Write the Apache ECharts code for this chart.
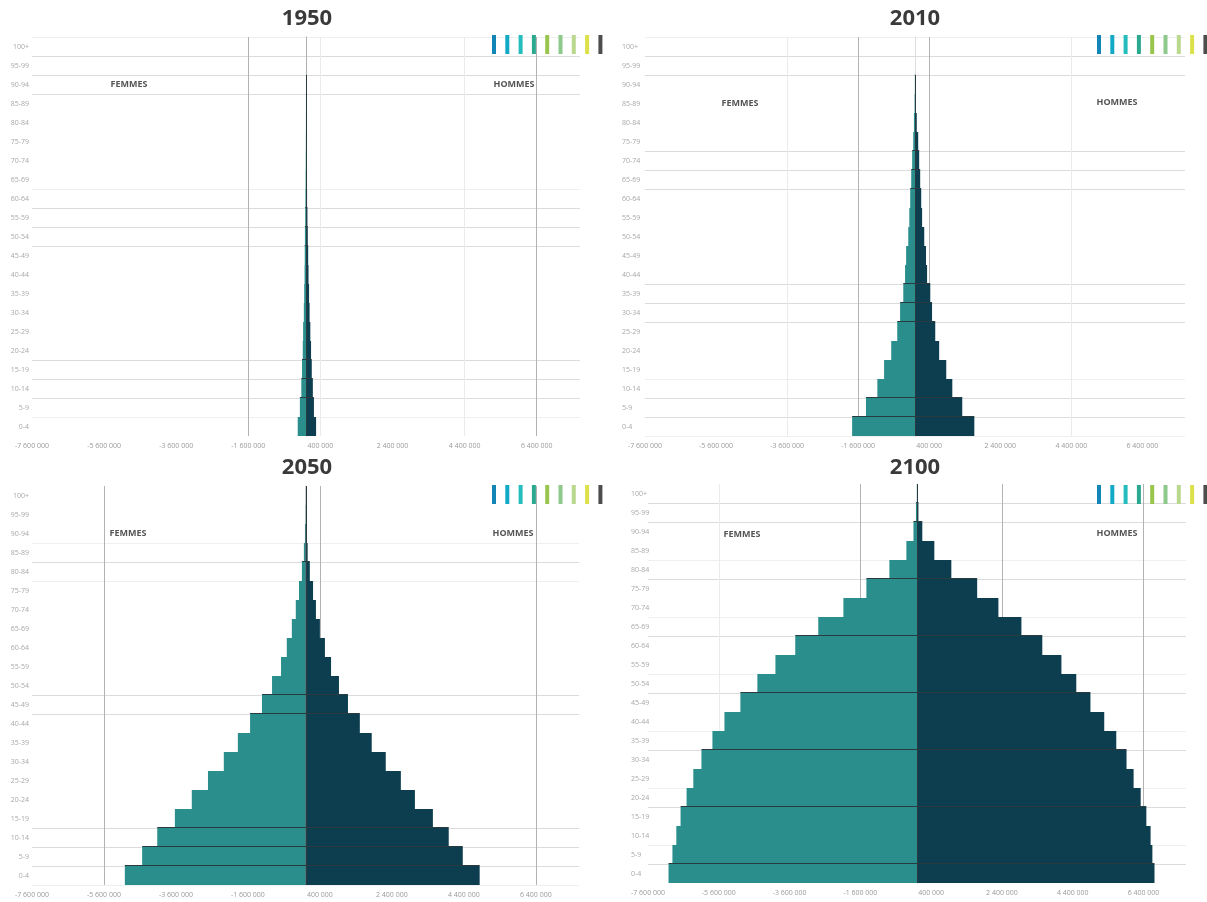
<!DOCTYPE html>
<html><head><meta charset="utf-8">
<script src="https://cdn.jsdelivr.net/npm/echarts@6/dist/echarts.min.js"></script>
<style>html,body{margin:0;padding:0;background:#fff}#c{width:1207px;height:902px}</style>
</head><body><div id="c"></div>
<script>
// ---- data (persons), age groups from 0-4 (bottom) to 100+ (top) ----
const ageGroups = ['0-4','5-9','10-14','15-19','20-24','25-29','30-34','35-39','40-44','45-49','50-54','55-59','60-64','65-69','70-74','75-79','80-84','85-89','90-94','95-99','100+'];
const years = ['1950','2010','2050','2100'];
const sexLabels = ['FEMMES','HOMMES'];

const femmes1950 = [230000,170000,130000,110000,90000,80000,60000,50000,40000,35000,30000,22000,16000,11000,7000,4000,2000,1000,300,0,0];
const hommes1950 = [280000,220000,190000,160000,140000,120000,100000,85000,70000,60000,50000,40000,30000,20000,13000,8000,4000,2000,500,0,0];

const femmes2010 = [1770000,1380000,1060000,870000,670000,500000,420000,330000,280000,250000,190000,160000,135000,107000,80000,50000,30000,12000,4000,0,0];
const hommes2010 = [1670000,1330000,1050000,880000,680000,570000,480000,430000,340000,310000,260000,200000,175000,146000,118000,90000,50000,20000,6000,0,0];

const femmes2050 = [5020000,4540000,4120000,3630000,3160000,2710000,2270000,1880000,1540000,1210000,930000,680000,520000,380000,270000,180000,100000,45000,15000,3000,500];
const hommes2050 = [4840000,4370000,3980000,3540000,3040000,2650000,2230000,1840000,1510000,1180000,930000,710000,540000,400000,290000,210000,120000,60000,20000,4000,500];

const femmes2100 = [7020000,6910000,6800000,6680000,6510000,6320000,6090000,5780000,5440000,4990000,4510000,4000000,3440000,2790000,2080000,1430000,780000,300000,100000,30000,5000];
const hommes2100 = [6710000,6650000,6600000,6480000,6320000,6120000,5920000,5630000,5290000,4900000,4500000,4080000,3540000,2950000,2300000,1700000,970000,490000,150000,40000,10000];

const xMin = -7600000, xMax = 7600000, xStep = 400000, xLabelEvery = 5;

const femmesByYear = [femmes1950, femmes2010, femmes2050, femmes2100];
const hommesByYear = [hommes1950, hommes2010, hommes2050, hommes2100];

// ---- layout / style ----
const swatchColors = ['#1386b8','#12a9c6','#24bcbd','#2aa98e','#99c54c','#8dc98b','#bad88e','#dce14a','#4d4d4d'];
const layouts = [
  {left:32, top:37, width:548, height:399, yOffset:0, inside:false, yMargin:3, yLine:'#b0b0b0',
   title:[307,19], fem:[129,84], hom:[514,84], sw:[492,35],
   xDark:[3,7], xFaint:[4,6], strong:[1,2,3,9,10,11,17,18,19], faint:[0,8,20]},
  {left:645, top:37, width:540, height:399, yOffset:29, inside:true, yMargin:6, yLine:'#dedede',
   title:[915,19], fem:[740,103], hom:[1117,102], sw:[1097,35],
   xDark:[3,4], xFaint:[2,6], strong:[1,2,6,7,8,13,14,15,19,20], faint:[0,18,21]},
  {left:32, top:486, width:547, height:399, yOffset:0, inside:false, yMargin:3, yLine:'#d4d4d4',
   title:[307,468], fem:[128,533], hom:[513,533], sw:[492,485],
   xDark:[1,4,7], xFaint:[], strong:[4,11,12,18,19,20], faint:[3,5,21]},
  {left:648, top:484, width:538, height:399, yOffset:20, inside:true, yMargin:3, yLine:'#e2e2e2',
   title:[915,468], fem:[742,534], hom:[1117,533], sw:[1097,485],
   xDark:[3,5,7], xFaint:[1], strong:[1,2,5,8,11,14,17,20], faint:[4,7,10,13,16,19]}
];

function fmt(v){
  const s = Math.abs(Math.round(v)).toString().replace(/\B(?=(\d{3})+(?!\d))/g,' ');
  return (v < 0 ? '-' : '') + s;
}
function majorIndex(v){
  const t = Math.round((v - xMin) / xStep);
  return t % xLabelEvery === 0 ? t / xLabelEvery : -1;
}

const option = {animation:false, grid:[], xAxis:[], yAxis:[], series:[], graphic:[]};
const nX = Math.round((xMax - xMin) / xStep) + 1;
const nRows = ageGroups.length;

layouts.forEach((L, gi) => {
  const F = femmesByYear[gi], M = hommesByYear[gi];
  option.grid.push({left:L.left, top:L.top, width:L.width, height:L.height});
  const xColors = [];
  for (let t = 0; t < nX; t++) {
    const m = t % xLabelEvery === 0 ? t / xLabelEvery : -1;
    xColors.push(m >= 0 && L.xDark.includes(m) ? '#b2b2b2' : (m >= 0 && L.xFaint.includes(m) ? '#ebebeb' : 'rgba(0,0,0,0)'));
  }
  const yColors = [];
  for (let j = 0; j <= nRows; j++) {
    const k = nRows - j;
    yColors.push(L.strong.includes(k) ? '#dcdcdc' : (L.faint.includes(k) ? '#efefef' : 'rgba(0,0,0,0)'));
  }
  option.xAxis.push({
    type:'value', gridIndex:gi, min:xMin, max:xMax, interval:xStep,
    axisLine:{show:false}, axisTick:{show:false},
    axisLabel:{formatter:v => majorIndex(v) >= 0 ? fmt(v) : '', fontSize:7, color:'#9a9a9a', margin:6, fontFamily:'Open Sans'},
    splitLine:{show:true, lineStyle:{color:xColors, width:1}}
  });
  option.yAxis.push({
    type:'category', gridIndex:gi, data:ageGroups, offset:L.yOffset,
    axisLine:{show:true, lineStyle:{color:L.yLine}}, axisTick:{show:false},
    axisLabel:{inside:L.inside, interval:0, fontSize:7, color:'#a8a8a8', margin:L.yMargin, fontFamily:'Open Sans'},
    splitLine:{show:true, interval:0, lineStyle:{color:yColors, width:1}}
  });
  option.series.push({
    type:'bar', name:sexLabels[0], xAxisIndex:gi, yAxisIndex:gi, stack:'p'+gi, silent:true,
    barCategoryGap:'0%', data:F.map(v => -v), itemStyle:{color:'#2a8f8c'}
  });
  option.series.push({
    type:'bar', name:sexLabels[1], xAxisIndex:gi, yAxisIndex:gi, stack:'p'+gi, silent:true,
    barCategoryGap:'0%', data:M, itemStyle:{color:'#0c3e4f'}
  });
  option.series.push({
    type:'custom', xAxisIndex:gi, yAxisIndex:gi, z:5, silent:true, clip:false,
    data:ageGroups.map((a, i) => [0, i]), encode:{x:0, y:1},
    renderItem:(params, api) => {
      const i = api.value(1);
      const c = api.coord([0, i]);
      const h = api.size([0, 1])[1];
      const kids = [];
      const k = nRows - i;
      if (L.strong.includes(k)) {
        const wf = Math.max(F[i], i > 0 ? F[i-1] : 0), wm = Math.max(M[i], i > 0 ? M[i-1] : 0);
        if (wf + wm > 0) {
          const y = Math.round(c[1] + h / 2) - 0.5;
          kids.push({type:'line', shape:{x1:api.coord([-wf, i])[0], y1:y, x2:api.coord([wm, i])[0], y2:y},
            style:{stroke:'#2b3a3f', lineWidth:1}});
        }
      }
      if (F[i] + M[i] > 0) {
        const x = Math.round(c[0]) + 0.5;
        kids.push({type:'line', shape:{x1:x, y1:c[1] - h / 2, x2:x, y2:c[1] + h / 2},
          style:{stroke:'#2b3a3f', lineWidth:1}});
      }
      return {type:'group', children:kids};
    }
  });
  option.graphic.push({type:'text', x:L.title[0], y:L.title[1], silent:true, z:100,
    style:{text:years[gi], fill:'#3a3a3a', fontSize:22, fontWeight:'bold', fontFamily:'Open Sans', align:'center', verticalAlign:'middle'}});
  option.graphic.push({type:'text', x:L.fem[0], y:L.fem[1], silent:true, z:100,
    style:{text:sexLabels[0], fill:'#555', fontSize:9, fontWeight:'bold', fontFamily:'Open Sans', align:'center', verticalAlign:'middle'}});
  option.graphic.push({type:'text', x:L.hom[0], y:L.hom[1], silent:true, z:100,
    style:{text:sexLabels[1], fill:'#555', fontSize:9, fontWeight:'bold', fontFamily:'Open Sans', align:'center', verticalAlign:'middle'}});
  swatchColors.forEach((col, si) => {
    option.graphic.push({type:'rect', silent:true, z:100,
      shape:{x:L.sw[0] + si * 13.3, y:L.sw[1], width:4, height:19}, style:{fill:col}});
  });
});

const chart = echarts.init(document.getElementById('c'), null, {renderer:'canvas'});
chart.setOption(option);
</script>
</body></html>
